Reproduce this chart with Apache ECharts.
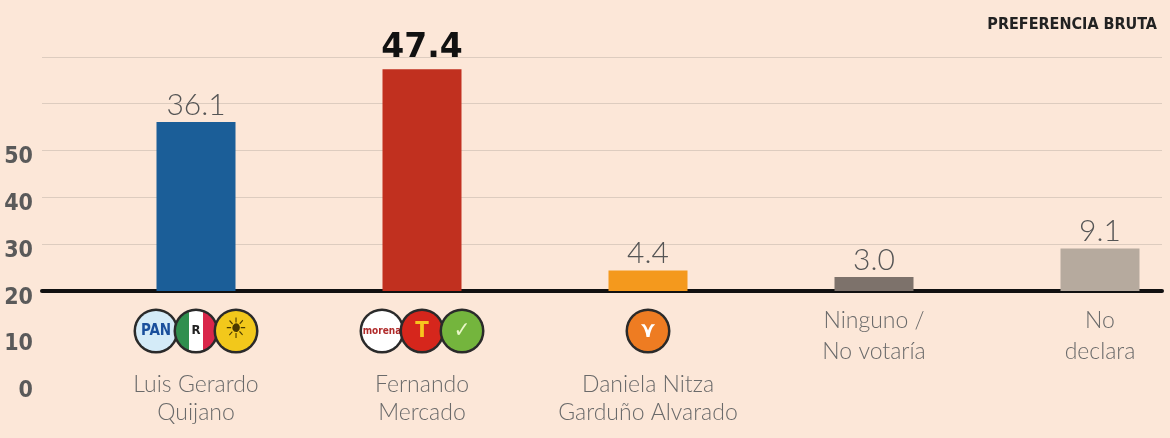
<!DOCTYPE html>
<html>
<head>
<meta charset="utf-8">
<script src="https://cdn.jsdelivr.net/npm/echarts@6/dist/echarts.min.js"></script>
<style>
  html, body { margin: 0; padding: 0; background: #fce7d8; }
  #chart { width: 1170px; height: 438px; }
</style>
</head>
<body>
<div id="chart"></div>
<script>
// ---- data ----
const categories = ['Luis Gerardo\nQuijano', 'Fernando\nMercado', 'Daniela Nitza\nGarduño Alvarado', 'Ninguno /\nNo votaría', 'No\ndeclara'];
const values = [36.1, 47.4, 4.4, 3.0, 9.1];
const yTickLabels = ['0', '10', '20', '30', '40', '50'];
const partyLogos = [['pan', 'pri', 'prd'], ['morena', 'pt', 'pvem'], ['mc'], [], []];
const subtitle = 'PREFERENCIA BRUTA';

// ---- styles ----
const barColors = ['#1b5e98', '#c1301f', '#f4991d', '#7d726b', '#b6aa9e'];
const logoText = { pan: 'PAN', pri: 'R', prd: '☀', morena: 'morena', pt: 'T', pvem: '✓', mc: '⋎' };
const yMin = -20, yMax = 50, yStep = 10;

function logoStyle(bg, color, size, weight) {
  return {
    width: 40, height: 40, lineHeight: 52, align: 'center', verticalAlign: 'middle',
    backgroundColor: bg, borderColor: '#2a2a2a', borderWidth: 2.5, borderRadius: 22,
    color: color, fontSize: size, fontWeight: weight || 'bold',
    fontFamily: 'Liberation Sans Narrow, DejaVu Sans Condensed, sans-serif'
  };
}
const rich = {
  pan: logoStyle('#d4ebf8', '#1a4f9c', 15),
  pri: logoStyle({ type: 'linear', x: 0, y: 0, x2: 1, y2: 0, colorStops: [
    { offset: 0, color: '#2f8f4e' }, { offset: 0.34, color: '#2f8f4e' },
    { offset: 0.34, color: '#ffffff' }, { offset: 0.66, color: '#ffffff' },
    { offset: 0.66, color: '#d9264a' }, { offset: 1, color: '#d9264a' }] }, '#222', 13),
  prd: logoStyle('#f2c81b', '#4a3a00', 28, 'normal'),
  morena: logoStyle('#ffffff', '#b02a2a', 10),
  pt: logoStyle('#d6261c', '#f7c51e', 22),
  pvem: logoStyle('#74b53d', '#e9f7c8', 22),
  mc: logoStyle('#ee7c22', '#ffffff', 22),
  sp: { lineHeight: 14, fontSize: 2 },
  nm: { lineHeight: 28, fontSize: 23, color: '#6a6a6a', fontFamily: 'Lato, sans-serif', fontWeight: 300 },
  nm2: { lineHeight: 31, fontSize: 23, color: '#6a6a6a', fontFamily: 'Lato, sans-serif', fontWeight: 300 }
};

const maxVal = Math.max(...values);
const barData = values.map((v, i) => {
  const item = { value: v, itemStyle: { color: barColors[i] } };
  if (v === maxVal) {
    item.label = { fontFamily: 'DejaVu Sans, sans-serif', fontWeight: 'bold', fontSize: 33, color: '#111', distance: 4 };
  }
  return item;
});

const chart = echarts.init(document.getElementById('chart'), null, { renderer: 'canvas' });
const nTicks = (yMax - yMin) / yStep + 1;
const gridColors = [];
for (let i = 0; i < nTicks; i++) {
  gridColors.push(yMin + i * yStep < 0 ? 'rgba(0,0,0,0)' : '#ddccbf');
}

chart.setOption({
  animation: false,
  backgroundColor: '#fce7d8',
  title: {
    text: subtitle, right: 8, top: 12,
    textStyle: { fontFamily: 'Liberation Sans Narrow, DejaVu Sans Condensed, sans-serif', fontWeight: 'bold', fontSize: 16, color: '#222' }
  },
  grid: [
    // frame: y tick labels, gridlines and the black baseline
    { left: 42, right: 8, top: 57, bottom: 54, containLabel: false, outerBoundsMode: 'none' },
    // bars: bottom edge sits on the baseline
    { left: 83, right: -43, top: 57, bottom: 147, containLabel: false, outerBoundsMode: 'none' }
  ],
  xAxis: [
    {
      gridIndex: 0, type: 'value', min: 0, max: 1,
      axisLine: { show: true, onZero: true, lineStyle: { color: '#111', width: 4 } },
      axisTick: { show: false }, axisLabel: { show: false }, splitLine: { show: false }
    },
    {
      gridIndex: 1, type: 'category', data: categories,
      axisLine: { show: false },
      axisTick: { show: false },
      splitLine: { show: false },
      axisLabel: {
        interval: 0, margin: 14, rich: rich,
        formatter: (value, index) => {
          const logos = partyLogos[index];
          const lines = value.split('\n');
          if (logos.length) {
            return logos.map(k => '{' + k + '|' + logoText[k] + '}').join('') + '\n{sp| }\n' +
              lines.map(l => '{nm|' + l + '}').join('\n');
          }
          return lines.map(l => '{nm2|' + l + '}').join('\n');
        }
      }
    }
  ],
  yAxis: [
    {
      gridIndex: 0, type: 'value', min: yMin, max: yMax, interval: yStep,
      axisLine: { show: false }, axisTick: { show: false },
      axisLabel: {
        margin: 9, verticalAlign: 'top', lineHeight: 14,
        fontFamily: 'Liberation Sans Narrow, DejaVu Sans Condensed, sans-serif', fontSize: 23, fontWeight: 'bold', color: '#5a5a5a',
        formatter: v => {
          const idx = Math.round((v - yMin) / yStep);
          return yTickLabels[idx] !== undefined ? yTickLabels[idx] : '';
        }
      },
      splitLine: { show: true, lineStyle: { color: gridColors, width: 1 } }
    },
    {
      gridIndex: 1, type: 'value', min: 0, max: yMax, interval: yStep, show: false,
      splitLine: { show: false }
    }
  ],
  series: [{
    type: 'bar', xAxisIndex: 1, yAxisIndex: 1,
    barWidth: 79,
    data: barData,
    label: {
      show: true, position: 'top', distance: 2,
      fontFamily: 'Lato, sans-serif', fontWeight: 300, fontSize: 30, color: '#555',
      formatter: p => p.value.toFixed(1)
    }
  }]
});
</script>
</body>
</html>
